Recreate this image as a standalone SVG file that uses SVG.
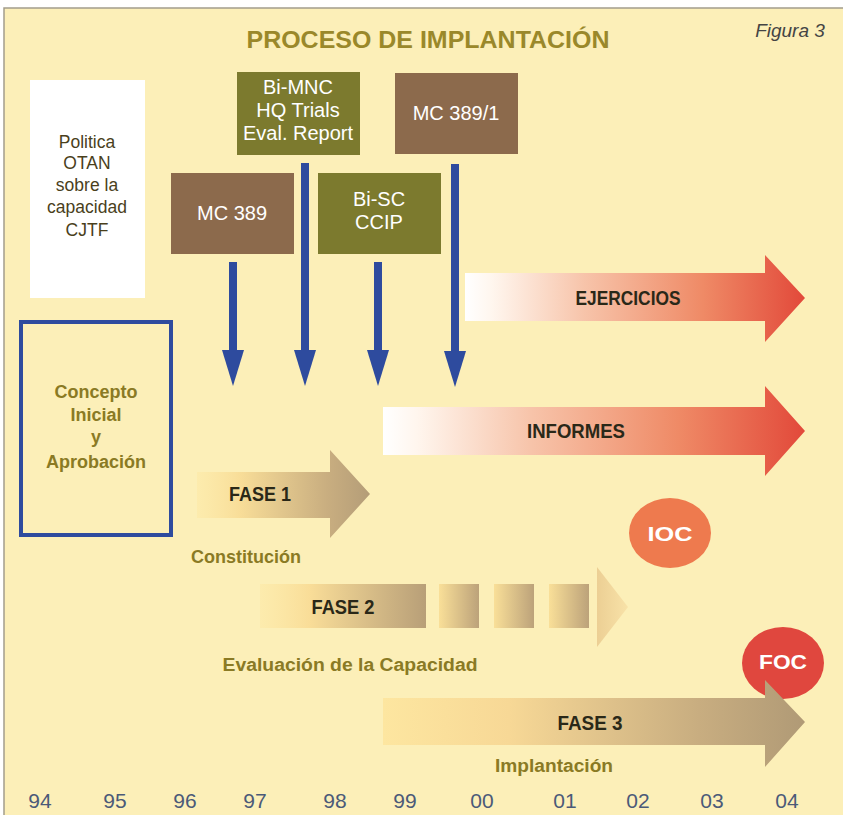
<svg xmlns="http://www.w3.org/2000/svg" width="843" height="815" viewBox="0 0 843 815">
<defs>
<linearGradient id="gRed" x1="0" y1="0" x2="1" y2="0">
<stop offset="0" stop-color="#ffffff"/>
<stop offset="0.08" stop-color="#fff6ee"/>
<stop offset="0.35" stop-color="#f7c4aa"/>
<stop offset="0.7" stop-color="#ef8a66"/>
<stop offset="1" stop-color="#e2493a"/>
</linearGradient>
<linearGradient id="gTan" x1="0" y1="0" x2="1" y2="0">
<stop offset="0" stop-color="#fde9a6" stop-opacity="0.6"/>
<stop offset="0.25" stop-color="#f8dd98"/>
<stop offset="0.75" stop-color="#c9ae80"/>
<stop offset="1" stop-color="#b49d78"/>
</linearGradient>
<linearGradient id="gSeg" x1="0" y1="0" x2="1" y2="0">
<stop offset="0" stop-color="#f9df98"/>
<stop offset="1" stop-color="#bca27a"/>
</linearGradient>
<linearGradient id="gSeg1" x1="0" y1="0" x2="1" y2="0">
<stop offset="0" stop-color="#fde9a6" stop-opacity="0.6"/>
<stop offset="0.3" stop-color="#f9dd98"/>
<stop offset="1" stop-color="#b89f78"/>
</linearGradient>
<linearGradient id="gHead2" x1="0" y1="0" x2="1" y2="0">
<stop offset="0" stop-color="#eccf94"/>
<stop offset="1" stop-color="#f8e2a8"/>
</linearGradient>
<linearGradient id="gTan3" x1="0" y1="0" x2="1" y2="0">
<stop offset="0" stop-color="#fde6a0"/>
<stop offset="0.3" stop-color="#f7d896"/>
<stop offset="0.75" stop-color="#c8ad80"/>
<stop offset="1" stop-color="#b09a76"/>
</linearGradient>
<marker id="blueHead" viewBox="0 0 36 22" refX="0" refY="11" markerWidth="36" markerHeight="22" markerUnits="userSpaceOnUse" orient="auto">
<path d="M0,0 L36,11 L0,22 Z" fill="#2e4b9e"/>
</marker>
<style>
.box-olive{fill:#7c7a2e}
.box-brown{fill:#8c6a4c}
.boxtxt{font-family:"Liberation Sans",Arial,sans-serif;font-size:20px;fill:#ffffff;text-anchor:middle}
.dark{font-family:"Liberation Sans",Arial,sans-serif;font-size:17.5px;fill:#4a3f1c;text-anchor:middle}
.olive{font-family:"Liberation Sans",Arial,sans-serif;font-weight:bold;font-size:18px;fill:#8a7a24;text-anchor:middle}
.fase{font-family:"Liberation Sans",Arial,sans-serif;font-weight:bold;font-size:20px;fill:#2a2818;text-anchor:middle}
.circ{font-family:"Liberation Sans",Arial,sans-serif;font-weight:bold;font-size:21px;fill:#ffffff;text-anchor:middle}
.year{font-family:"Liberation Sans",Arial,sans-serif;font-size:21px;fill:#4b5a78;text-anchor:middle}
.shaft{stroke:#2e4b9e;stroke-width:8;fill:none}
</style>
</defs>
<rect x="0" y="0" width="843" height="815" fill="#ffffff"/>
<rect x="4" y="8" width="839" height="807" fill="#fcefb8"/>
<path d="M4,815 L4,8 L843,8" fill="none" stroke="#a39d8c" stroke-width="1.5"/>

<g id="title">
<text x="428" y="48" text-anchor="middle" font-family="'Liberation Sans',Arial,sans-serif" font-weight="bold" font-size="24" fill="#9a882a" textLength="363" lengthAdjust="spacingAndGlyphs">PROCESO DE IMPLANTACIÓN</text>
<text x="790" y="37" text-anchor="middle" font-family="'Liberation Sans',Arial,sans-serif" font-style="italic" font-size="19" fill="#444444">Figura 3</text>
</g>

<g id="politica">
<rect x="30" y="80" width="115" height="218" fill="#ffffff"/>
<text class="dark" x="87" y="148">Politica</text>
<text class="dark" x="87" y="169">OTAN</text>
<text class="dark" x="87" y="191">sobre la</text>
<text class="dark" x="87" y="213">capacidad</text>
<text class="dark" x="87" y="236">CJTF</text>
</g>

<g id="bimnc">
<rect class="box-olive" x="237" y="72" width="123" height="83"/>
<text class="boxtxt" x="298" y="94">Bi-MNC</text>
<text class="boxtxt" x="298" y="117">HQ Trials</text>
<text class="boxtxt" x="298" y="140">Eval. Report</text>
</g>

<g id="mc3891">
<rect class="box-brown" x="395" y="73" width="123" height="81"/>
<text class="boxtxt" x="456" y="120">MC 389/1</text>
</g>

<g id="mc389">
<rect class="box-brown" x="171" y="173" width="123" height="81"/>
<text class="boxtxt" x="232" y="220">MC 389</text>
</g>

<g id="bisc">
<rect class="box-olive" x="318" y="173" width="123" height="81"/>
<text class="boxtxt" x="379" y="206">Bi-SC</text>
<text class="boxtxt" x="379" y="229">CCIP</text>
</g>

<g id="connectors">
<line class="shaft" x1="233" y1="262" x2="233" y2="350" marker-end="url(#blueHead)"/>
<line class="shaft" x1="305" y1="163" x2="305" y2="350" marker-end="url(#blueHead)"/>
<line class="shaft" x1="378" y1="262" x2="378" y2="350" marker-end="url(#blueHead)"/>
<line class="shaft" x1="455" y1="164" x2="455" y2="351" marker-end="url(#blueHead)"/>
</g>

<g id="concepto">
<rect x="21" y="322" width="150" height="213" fill="none" stroke="#2e4b9e" stroke-width="4"/>
<text class="olive" x="96" y="398" font-size="19">Concepto</text>
<text class="olive" x="96" y="421" font-size="19">Inicial</text>
<text class="olive" x="96" y="443" font-size="19">y</text>
<text class="olive" x="96" y="468" font-size="19">Aprobación</text>
</g>

<g id="ejercicios">
<polygon points="465,273 765,273 765,255 805,298 765,342 765,321 465,321" fill="url(#gRed)"/>
<text class="fase" x="628" y="305" textLength="105" lengthAdjust="spacingAndGlyphs">EJERCICIOS</text>
</g>

<g id="informes">
<polygon points="383,407 765,407 765,386 805,431 765,476 765,455 383,455" fill="url(#gRed)"/>
<text class="fase" x="576" y="438" textLength="98" lengthAdjust="spacingAndGlyphs">INFORMES</text>
</g>

<g id="fase1">
<polygon points="197,472 330,472 330,450 370,494 330,538 330,518 197,518" fill="url(#gTan)"/>
<text class="fase" x="260" y="501" textLength="62" lengthAdjust="spacingAndGlyphs">FASE 1</text>
<text class="olive" x="246" y="563" textLength="110" lengthAdjust="spacingAndGlyphs">Constitución</text>
</g>

<g id="ioc">
<ellipse cx="670" cy="533" rx="41" ry="35" fill="#ee7a4e"/>
<text class="circ" x="670" y="541" textLength="45" lengthAdjust="spacingAndGlyphs">IOC</text>
</g>

<g id="fase2">
<rect x="260" y="584" width="166" height="44" fill="url(#gSeg1)"/>
<rect x="439" y="584" width="40" height="44" fill="url(#gSeg)"/>
<rect x="494" y="584" width="40" height="44" fill="url(#gSeg)"/>
<rect x="549" y="584" width="40" height="44" fill="url(#gSeg)"/>
<polygon points="597,567 628,607 597,647" fill="url(#gHead2)"/>
<text class="fase" x="343" y="614" textLength="63" lengthAdjust="spacingAndGlyphs">FASE 2</text>
<text class="olive" x="350" y="671" textLength="255" lengthAdjust="spacingAndGlyphs">Evaluación de la Capacidad</text>
</g>

<g id="foc">
<ellipse cx="783" cy="663" rx="41" ry="36" fill="#e0473e"/>
<text class="circ" x="783" y="669" textLength="48" lengthAdjust="spacingAndGlyphs">FOC</text>
</g>

<g id="fase3">
<polygon points="383,698 765,698 765,680 805,722 765,767 765,745 383,745" fill="url(#gTan3)"/>
<text class="fase" x="590" y="730" textLength="65" lengthAdjust="spacingAndGlyphs">FASE 3</text>
<text class="olive" x="554" y="772" font-weight="normal" font-size="19" textLength="118" lengthAdjust="spacingAndGlyphs">Implantación</text>
</g>

<g id="axis">
<text class="year" x="40" y="808">94</text>
<text class="year" x="115" y="808">95</text>
<text class="year" x="185" y="808">96</text>
<text class="year" x="255" y="808">97</text>
<text class="year" x="335" y="808">98</text>
<text class="year" x="405" y="808">99</text>
<text class="year" x="482" y="808">00</text>
<text class="year" x="565" y="808">01</text>
<text class="year" x="638" y="808">02</text>
<text class="year" x="712" y="808">03</text>
<text class="year" x="787" y="808">04</text>
</g>
</svg>
